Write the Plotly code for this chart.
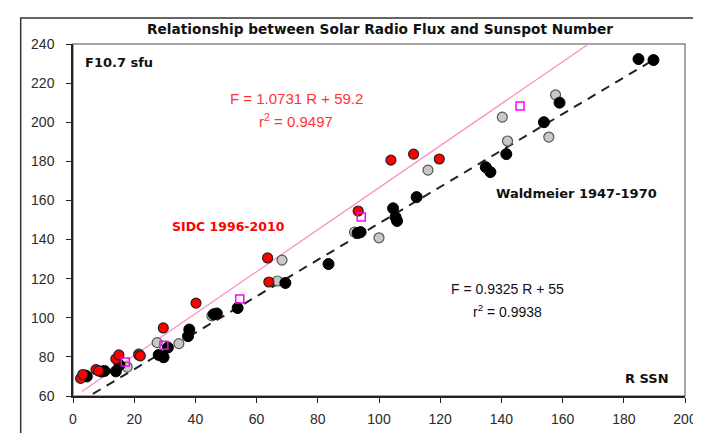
import plotly.graph_objects as go

# Data
gray_x = [17.7, 21.5, 27.5, 34.6, 45.4, 66.8, 68.3, 92.0, 100.0, 116.0, 140.3, 142.0, 155.5, 157.7]
gray_y = [74.8, 81.5, 87.3, 86.8, 101.0, 118.8, 129.5, 143.8, 140.9, 175.5, 202.6, 190.4, 192.4, 214.0]

black_x = [4.0, 4.5, 9.3, 10.3, 14.0, 15.2, 28.0, 29.6, 31.0, 37.6, 38.0, 46.0, 47.0, 53.8, 69.4, 83.5,
           93.0, 94.0, 104.6, 105.4, 105.9, 112.3, 134.9, 136.4, 141.6, 153.9, 159.0, 184.8, 189.7]
black_y = [70.5, 70.0, 72.5, 72.8, 72.6, 75.8, 81.0, 79.8, 84.8, 90.6, 94.0, 101.8, 102.2, 105.0, 117.8, 127.5,
           143.3, 143.8, 156.0, 151.5, 149.5, 161.7, 177.0, 174.5, 183.7, 200.0, 210.0, 232.3, 231.8]

red_x = [2.5, 3.2, 7.5, 8.4, 14.0, 15.0, 21.5, 22.0, 29.5, 40.2, 63.6, 64.0, 93.2, 103.9, 111.3, 119.7]
red_y = [69.0, 71.0, 73.5, 72.8, 79.0, 81.0, 81.0, 80.5, 94.8, 107.5, 130.6, 118.3, 154.6, 180.6, 183.7, 181.2]

mag_x = [17.1, 29.7, 54.5, 94.2, 146.1]
mag_y = [77.4, 86.0, 109.6, 151.5, 208.3]

# Trend lines (end points)
sidc_fit_x = [2.9, 168.0]
sidc_fit_y = [62.3, 239.5]
wald_fit_x = [6.5, 189.5]
wald_fit_y = [61.1, 231.7]

x_ticks = [0, 20, 40, 60, 80, 100, 120, 140, 160, 180, 200]
y_ticks = [60, 80, 100, 120, 140, 160, 180, 200, 220, 240]

W, H = 701, 433
ML, MR, MT, MB = 65, 16, 36, 45
PW, PH = W - ML - MR, H - MT - MB

def px(x):
    return (x - ML) / PW

def py(y):
    return (H - MB - y) / PH

fig = go.Figure()

fig.add_trace(go.Scatter(x=sidc_fit_x, y=sidc_fit_y, mode="lines",
                         line=dict(color="#FF8CC8", width=1.3), hoverinfo="skip"))
fig.add_trace(go.Scatter(x=wald_fit_x, y=wald_fit_y, mode="lines",
                         line=dict(color="#222222", width=2, dash="9px,7px"), hoverinfo="skip"))
fig.add_trace(go.Scatter(x=gray_x, y=gray_y, mode="markers",
                         marker=dict(size=10, color="#C8C8C8", line=dict(color="#555555", width=1.2))))
fig.add_trace(go.Scatter(x=black_x, y=black_y, mode="markers",
                         marker=dict(size=11, color="#000000", line=dict(color="#000000", width=1))))
fig.add_trace(go.Scatter(x=red_x, y=red_y, mode="markers",
                         marker=dict(size=10, color="#FF0000", line=dict(color="#222222", width=1.2))))
fig.add_trace(go.Scatter(x=mag_x, y=mag_y, mode="markers",
                         marker=dict(size=8, symbol="square-open", color="#FF00FF", line=dict(width=1.5))))

fs = "Liberation Sans, Arial, sans-serif"
bold = "DejaVu Sans, Verdana, sans-serif"

annotations = [
    dict(text="<b>Relationship between Solar Radio Flux and Sunspot Number</b>", x=px(376), y=py(21),
         font=dict(family=bold, size=13.7, color="#111111")),
    dict(text="<b>F10.7 sfu</b>", x=px(112), y=py(54), font=dict(family=bold, size=13, color="#111111")),
    dict(text="F = 1.0731 R + 59.2", x=px(291), y=py(90), font=dict(family=fs, size=15, color="#FF3333")),
    dict(text="r<sup>2</sup> = 0.9497", x=px(291), y=py(112), font=dict(family=fs, size=15, color="#FF3333")),
    dict(text="<b>SIDC 1996-2010</b>", x=px(223), y=py(218), font=dict(family=bold, size=12.5, color="#FF0000")),
    dict(text="<b>Waldmeier 1947-1970</b>", x=px(575), y=py(185), font=dict(family=bold, size=13, color="#111111")),
    dict(text="F = 0.9325 R + 55", x=px(505), y=py(281), font=dict(family=fs, size=14, color="#111111")),
    dict(text="r<sup>2</sup> = 0.9938", x=px(505), y=py(303), font=dict(family=fs, size=14, color="#111111")),
    dict(text="<b>R SSN</b>", x=px(646), y=py(370), font=dict(family=bold, size=13, color="#111111")),
]
for a in annotations:
    a.update(xref="paper", yref="paper", showarrow=False, xanchor="center", yanchor="middle")

shapes = [
    # outer chart frame
    dict(type="rect", xref="paper", yref="paper", x0=px(12), x1=px(715), y0=py(445), y1=py(10),
         line=dict(color="#333333", width=1.5), fillcolor="rgba(0,0,0,0)", layer="below"),
    # plot area border (top/right gray)
    dict(type="rect", xref="paper", yref="paper", x0=0, x1=1, y0=0, y1=1,
         line=dict(color="#888888", width=1.5), layer="below"),
]

fig.update_layout(
    width=W, height=H,
    margin=dict(l=ML, r=MR, t=MT, b=MB),
    paper_bgcolor="white", plot_bgcolor="white",
    showlegend=False,
    annotations=annotations,
    shapes=shapes,
    xaxis=dict(range=[0, 200], tickvals=x_ticks, ticktext=[str(v) for v in x_ticks],
               showgrid=False, zeroline=False, showline=True, linecolor="#222222", linewidth=1.5,
               ticks="outside", ticklen=5, tickcolor="#222222", ticklabelstandoff=4,
               tickfont=dict(family=fs, size=14, color="#2a2a2a")),
    yaxis=dict(range=[60, 240], tickvals=y_ticks, ticktext=[str(v) for v in y_ticks],
               showgrid=False, zeroline=False, showline=True, linecolor="#222222", linewidth=1.5,
               ticks="outside", ticklen=5, tickcolor="#222222", ticklabelstandoff=9,
               tickfont=dict(family=fs, size=14, color="#2a2a2a")),
)

fig.write_html("out.html")
